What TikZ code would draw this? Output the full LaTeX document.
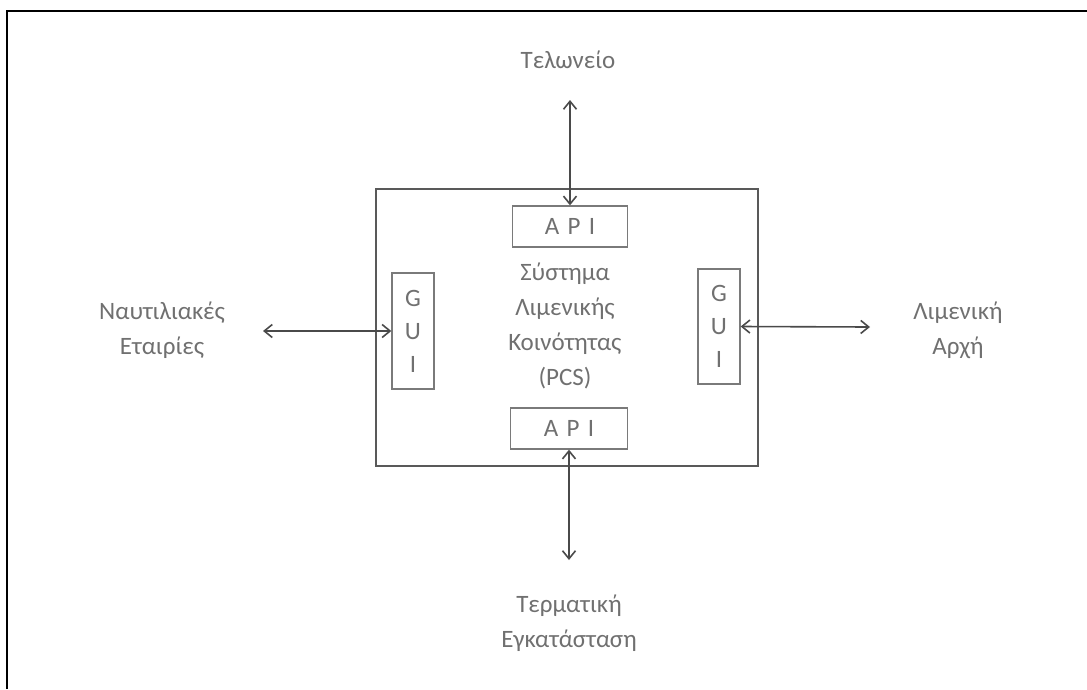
\documentclass[tikz,border=0pt]{standalone}
\usepackage{fontspec}
\setmainfont{Carlito}
\usetikzlibrary{arrows.meta}
\definecolor{txtgray}{HTML}{707070}
\definecolor{boxgray}{HTML}{595959}
\definecolor{linegray}{HTML}{4A4A4A}
\begin{document}
\begin{tikzpicture}[x=1pt,y=-1pt,
        label/.style={text=txtgray,font=\fontsize{25}{35}\selectfont,align=center},
        port/.style={draw=boxgray!80,line width=1.3pt,inner sep=0pt,text=txtgray,font=\fontsize{25}{33}\selectfont,align=center},
        link/.style={draw=linegray,line width=1.6pt,{Straight Barb[length=8pt,width=13pt]}-{Straight Barb[length=8pt,width=13pt]}}]
        \useasboundingbox (0,0) rectangle (1087,689);
        % frame
        \draw[line width=2.5pt] (7,689) -- (7,11) -- (1087,11);
        % system box
        \node[draw=boxgray,line width=2pt,minimum width=382pt,minimum height=277pt,inner sep=0pt] (pcs) at (567,327.5) {};
        \node[label] (name) at (565,326) {Σύστημα\\Λιμενικής\\Κοινότητας\\(PCS)};
        \begin{scope}[every node/.style={port}]
            \node[minimum width=115pt,minimum height=41pt] (api1) at (570,226.5) {A\,\,P\,\,I};
            \node[minimum width=117pt,minimum height=41pt] (api2) at (569,428.5) {A\,\,P\,\,I};
            \node[minimum width=42pt,minimum height=116pt] (gui1) at (413,331) {G\\U\\I};
            \node[minimum width=42pt,minimum height=115pt] (gui2) at (719,326.5) {G\\U\\I};
        \end{scope}
        % outside parties
        \node[label] (tel) at (568,60) {Τελωνείο};
        \node[label] (naut) at (162,330) {Ναυτιλιακές\\Εταιρίες};
        \node[label] (lim) at (958,330) {Λιμενική\\Αρχή};
        \node[label] (term) at (569,623) {Τερματική\\Εγκατάσταση};
        \coordinate (telend) at (570,100);
        \coordinate (nautend) at (263,331);
        \coordinate (limend) at (870,327);
        \coordinate (termend) at (569,560);
        \begin{scope}[every edge/.style={link}]
            \path
                (telend) edge (api1.north)
                (nautend) edge (gui1.west)
                (gui2.east) edge (limend)
                (api2.south) edge (termend);
        \end{scope}
    \end{tikzpicture}
\end{document}
